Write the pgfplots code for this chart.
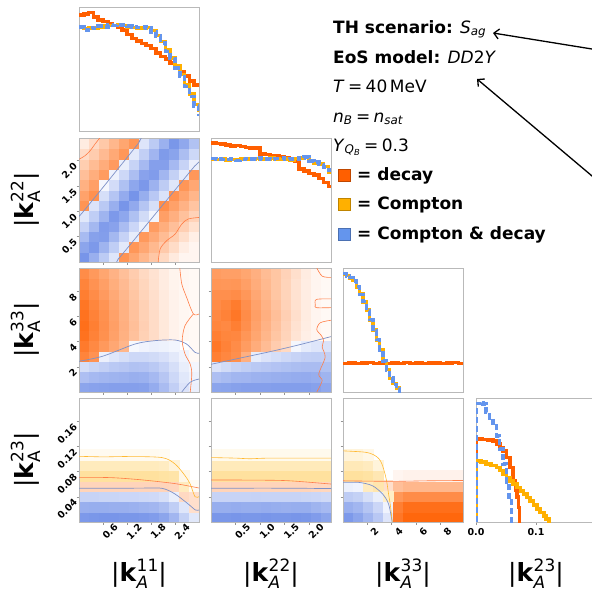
\documentclass[border=0pt]{standalone}
\usepackage{fontspec}
\setmainfont{DejaVu Sans}
\usepackage{pgfplots}
\pgfplotsset{compat=1.18}
\usetikzlibrary{arrows.meta}

\definecolor{cdecay}{RGB}{255,95,0}
\definecolor{ccomp}{RGB}{255,176,0}
\definecolor{cboth}{RGB}{100,149,237}
\definecolor{framegray}{RGB}{185,185,185}
\definecolor{lnb}{RGB}{125,145,200}
\definecolor{lno}{RGB}{255,125,70}
\definecolor{lny}{RGB}{255,185,50}

\newcommand{\klab}[2]{|\textbf{k}\rlap{\raisebox{0.38em}{\fontsize{17}{17}\selectfont #1}}\rlap{\raisebox{-0.28em}{\fontsize{17}{17}\selectfont #2}}\phantom{\fontsize{17}{17}\selectfont #1}|}

\pgfplotsset{
  colormap={bwo}{rgb255=(70,110,225) rgb255=(255,255,255) rgb255=(255,95,0)},
  colormap={wy}{rgb255=(255,255,255) rgb255=(255,255,255) rgb255=(255,176,0)},
  zbase/.style={scale only axis, width=120pt, height=124pt, anchor=north west},
  zpanel/.style={zbase, axis line style={draw=framegray, line width=0.9pt},
    tick style={draw=framegray!80!black, line width=0.6pt}, tick align=outside,
    major tick length=2.5pt, tick pos=left,
    ticklabel style={font=\bfseries\fontsize{9.5}{10}\selectfont}},
  zpanelxy/.style={zpanel,
    xticklabel style={rotate=45, anchor=center, yshift=-10pt},
    yticklabel style={rotate=45, anchor=east, yshift=-2pt}},
  zdiag/.style={zpanel, ymin=0, ymax=1, xtick=\empty, ytick=\empty},
  zcellax/.style={zbase, xmin=-0.5, xmax=11.5, ymin=-0.5, ymax=11.5, hide axis,
    point meta min=-1, point meta max=1, colormap name=bwo},
  zcells/.style={only marks, mark=square*, mark size=5.3pt, scatter, point meta=explicit,
    scatter/use mapped color={draw=mapped color, fill=mapped color}},
  zhd/.style={const plot, draw=cdecay, line width=3.5pt},
  zhc/.style={const plot, draw=ccomp, line width=3.5pt},
  zhb/.style={const plot, draw=cboth, line width=3.5pt, dash pattern=on 6pt off 3pt},
  zcb/.style={draw=lnb, line width=0.7pt, smooth},
  zco/.style={draw=lno, line width=0.6pt, smooth},
  zcy/.style={draw=lny, line width=0.6pt, smooth},
}

\begin{document}
\begin{tikzpicture}
\useasboundingbox (0,0) rectangle (592pt,-590pt);
\clip (0,0) rectangle (592pt,-590pt);

% ---------- row 1: k11 histogram
\begin{axis}[zdiag, at={(79pt,-7pt)}, xmin=0, xmax=3]
\addplot[zhd] coordinates {(0,.935) (0.12,.945) (0.24,.955) (0.36,.92) (0.48,.895) (0.6,.885) (0.72,.865) (0.84,.85) (0.96,.84) (1.08,.815) (1.2,.78) (1.32,.745) (1.44,.725) (1.56,.705) (1.68,.69) (1.8,.665) (1.92,.63) (2.04,.60) (2.16,.58) (2.28,.55) (2.40,.51) (2.52,.475) (2.64,.445) (2.76,.405) (2.88,.37) (3.0,.355)};
\addplot[zhc] coordinates {(0,.835) (0.12,.825) (0.24,.83) (0.36,.83) (0.48,.84) (0.6,.845) (0.72,.85) (0.84,.852) (0.96,.855) (1.08,.85) (1.2,.84) (1.32,.835) (1.44,.83) (1.56,.826) (1.68,.836) (1.8,.81) (1.92,.77) (2.04,.72) (2.16,.655) (2.28,.59) (2.40,.525) (2.52,.455) (2.64,.37) (2.76,.30) (2.88,.215) (3.0,.15)};
\addplot[zhb] coordinates {(0,.84) (0.12,.815) (0.24,.835) (0.36,.825) (0.48,.845) (0.6,.84) (0.72,.855) (0.84,.85) (0.96,.86) (1.08,.855) (1.2,.845) (1.32,.84) (1.44,.835) (1.56,.84) (1.68,.83) (1.8,.8) (1.92,.765) (2.04,.71) (2.16,.64) (2.28,.585) (2.40,.51) (2.52,.44) (2.64,.36) (2.76,.28) (2.88,.2) (3.0,.12)};
\end{axis}

% ---------- row 2, col 1: k11 vs k22
\begin{axis}[zcellax, at={(79pt,-138pt)}]
\addplot[zcells] coordinates {
(0,0) [-.73] (0,1) [-.62] (0,2) [-.47] (0,3) [-.31] (0,4) [-.16] (0,5) [.67] (0,6) [.58] (0,7) [.49] (0,8) [.40] (0,9) [.31] (0,10) [.22] (0,11) [.12]
(1,0) [-.55] (1,1) [-.70] (1,2) [-.65] (1,3) [-.49] (1,4) [-.34] (1,5) [-.19] (1,6) [.69] (1,7) [.60] (1,8) [.51] (1,9) [.42] (1,10) [.32] (1,11) [.23]
(2,0) [-.36] (2,1) [-.52] (2,2) [-.67] (2,3) [-.68] (2,4) [-.52] (2,5) [-.37] (2,6) [-.22] (2,7) [-.06] (2,8) [.62] (2,9) [.52] (2,10) [.43] (2,11) [.34]
(3,0) [-.18] (3,1) [-.34] (3,2) [-.49] (3,3) [-.64] (3,4) [-.70] (3,5) [-.55] (3,6) [-.40] (3,7) [-.24] (3,8) [-.09] (3,9) [.63] (3,10) [.54] (3,11) [.45]
(4,0) [.67] (4,1) [-.15] (4,2) [-.31] (4,3) [-.46] (4,4) [-.61] (4,5) [-.73] (4,6) [-.58] (4,7) [-.43] (4,8) [-.27] (4,9) [-.12] (4,10) [.65] (4,11) [.56]
(5,0) [.56] (5,1) [.65] (5,2) [-.13] (5,3) [-.28] (5,4) [-.43] (5,5) [-.59] (5,6) [-.74] (5,7) [-.61] (5,8) [-.45] (5,9) [-.30] (5,10) [-.15] (5,11) [.66]
(6,0) [.45] (6,1) [.55] (6,2) [.64] (6,3) [-.10] (6,4) [-.25] (6,5) [-.40] (6,6) [-.56] (6,7) [-.71] (6,8) [-.64] (6,9) [-.48] (6,10) [-.33] (6,11) [-.18]
(7,0) [.35] (7,1) [.44] (7,2) [.53] (7,3) [.62] (7,4) [-.07] (7,5) [-.22] (7,6) [-.38] (7,7) [-.53] (7,8) [-.68] (7,9) [-.66] (7,10) [-.51] (7,11) [-.36]
(8,0) [.24] (8,1) [.33] (8,2) [.42] (8,3) [.51] (8,4) [.60] (8,5) [.70] (8,6) [-.20] (8,7) [-.35] (8,8) [-.50] (8,9) [-.66] (8,10) [-.69] (8,11) [-.54]
(9,0) [.13] (9,1) [.22] (9,2) [.31] (9,3) [.40] (9,4) [.50] (9,5) [.59] (9,6) [.68] (9,7) [-.17] (9,8) [-.32] (9,9) [-.48] (9,10) [-.63] (9,11) [-.72]
(10,0) [.06] (10,1) [.11] (10,2) [.20] (10,3) [.30] (10,4) [.39] (10,5) [.48] (10,6) [.57] (10,7) [.66] (10,8) [-.14] (10,9) [-.30] (10,10) [-.45] (10,11) [-.60]
(11,0) [.06] (11,1) [.06] (11,2) [.10] (11,3) [.19] (11,4) [.28] (11,5) [.37] (11,6) [.46] (11,7) [.55] (11,8) [.65] (11,9) [-.11] (11,10) [-.27] (11,11) [-.42]
};
\end{axis}
\begin{axis}[zpanelxy, at={(79pt,-138pt)}, xmin=0, xmax=3, ymin=0, ymax=2.45,
  xtick={0.6,1.2,1.8,2.4}, xticklabels={}, ytick={0.5,1,1.5,2}, yticklabels={0.5,1.0,1.5,2.0}]
\addplot[zcb] coordinates {(0,0.93) (0.1,0.99) (1.4,2.26) (1.5,2.38) (1.56,2.45)};
\addplot[zcb] coordinates {(0.94,0) (1.0,0.08) (1.1,0.17) (2.75,1.76) (2.9,1.9) (3.0,1.98)};
\addplot[zco] coordinates {(0,2.03) (0.15,2.1) (0.28,2.2) (0.4,2.33) (0.52,2.45)};
\addplot[zco] coordinates {(1.98,0) (2.03,0.26) (2.19,0.42) (2.4,0.55) (2.57,0.75) (2.73,0.85) (3.0,0.88)};
\end{axis}

% ---------- row 2, col 2: k22 histogram
\begin{axis}[zdiag, at={(211pt,-138pt)}, xmin=0, xmax=2.45]
\addplot[zhd] coordinates {(0,.96) (0.1,.955) (0.2,.95) (0.3,.945) (0.4,.935) (0.5,.94) (0.6,.93) (0.7,.925) (0.8,.92) (0.9,.92) (1.0,.87) (1.1,.865) (1.2,.86) (1.3,.855) (1.4,.845) (1.5,.84) (1.6,.825) (1.7,.81) (1.8,.75) (1.9,.735) (2.0,.715) (2.1,.70) (2.2,.675) (2.3,.64) (2.4,.61) (2.45,.61)};
\addplot[zhc] coordinates {(0,.83) (0.1,.825) (0.2,.83) (0.3,.822) (0.4,.828) (0.5,.825) (0.6,.83) (0.7,.832) (0.8,.826) (0.9,.835) (1.0,.83) (1.1,.825) (1.2,.84) (1.3,.83) (1.4,.826) (1.5,.83) (1.6,.82) (1.7,.835) (1.8,.84) (1.9,.85) (2.0,.82) (2.1,.80) (2.2,.79) (2.3,.77) (2.4,.72) (2.45,.72)};
\addplot[zhb] coordinates {(0,.835) (0.1,.83) (0.2,.825) (0.3,.828) (0.4,.83) (0.5,.82) (0.6,.828) (0.7,.835) (0.8,.83) (0.9,.826) (1.0,.838) (1.1,.83) (1.2,.828) (1.3,.835) (1.4,.84) (1.5,.825) (1.6,.83) (1.7,.825) (1.8,.84) (1.9,.845) (2.0,.815) (2.1,.805) (2.2,.785) (2.3,.765) (2.4,.74) (2.45,.74)};
\end{axis}

% ---------- row 3, col 1: k11 vs k33
\begin{axis}[zcellax, at={(79pt,-268pt)}]
\addplot[zcells] coordinates {
(0,0) [-.62] (0,1) [-.44] (0,2) [-.23] (0,3) [.77] (0,4) [.83] (0,5) [.88] (0,6) [.90] (0,7) [.88] (0,8) [.86] (0,9) [.81] (0,10) [.77] (0,11) [.72]
(1,0) [-.64] (1,1) [-.48] (1,2) [-.29] (1,3) [.68] (1,4) [.74] (1,5) [.78] (1,6) [.80] (1,7) [.78] (1,8) [.76] (1,9) [.72] (1,10) [.68] (1,11) [.64]
(2,0) [-.65] (2,1) [-.50] (2,2) [-.33] (2,3) [-.10] (2,4) [.64] (2,5) [.69] (2,6) [.70] (2,7) [.69] (2,8) [.67] (2,9) [.63] (2,10) [.60] (2,11) [.56]
(3,0) [-.66] (3,1) [-.52] (3,2) [-.37] (3,3) [-.17] (3,4) [.55] (3,5) [.59] (3,6) [.60] (3,7) [.59] (3,8) [.57] (3,9) [.54] (3,10) [.51] (3,11) [.48]
(4,0) [-.66] (4,1) [-.53] (4,2) [-.39] (4,3) [-.22] (4,4) [.46] (4,5) [.49] (4,6) [.50] (4,7) [.49] (4,8) [.48] (4,9) [.45] (4,10) [.43] (4,11) [.40]
(5,0) [-.66] (5,1) [-.55] (5,2) [-.42] (5,3) [-.27] (5,4) [-.05] (5,5) [.39] (5,6) [.40] (5,7) [.39] (5,8) [.38] (5,9) [.36] (5,10) [.34] (5,11) [.32]
(6,0) [-.65] (6,1) [-.54] (6,2) [-.41] (6,3) [-.27] (6,4) [-.08] (6,5) [.29] (6,6) [.30] (6,7) [.29] (6,8) [.29] (6,9) [.27] (6,10) [.26] (6,11) [.24]
(7,0) [-.57] (7,1) [-.48] (7,2) [-.37] (7,3) [-.25] (7,4) [-.10] (7,5) [.22] (7,6) [.22] (7,7) [.22] (7,8) [.21] (7,9) [.20] (7,10) [.19] (7,11) [.18]
(8,0) [-.46] (8,1) [-.39] (8,2) [-.31] (8,3) [-.21] (8,4) [-.09] (8,5) [.14] (8,6) [.14] (8,7) [.14] (8,8) [.13] (8,9) [.13] (8,10) [.12] (8,11) [.12]
(9,0) [-.33] (9,1) [-.27] (9,2) [-.22] (9,3) [-.15] (9,4) [-.07] (9,5) [.08] (9,6) [.08] (9,7) [.08] (9,8) [.08] (9,9) [.08] (9,10) [.07] (9,11) [.07]
(10,0) [-.19] (10,1) [-.16] (10,2) [-.12] (10,3) [-.08] (10,5) [.05] (10,6) [.05] (10,7) [.05] (10,8) [.05] (10,9) [.05] (10,10) [.05] (10,11) [.05]
(11,0) [-.11] (11,1) [-.09] (11,2) [-.06] (11,3) [.04] (11,4) [.04] (11,5) [.04] (11,6) [.04] (11,7) [.04] (11,8) [.04] (11,9) [.04] (11,10) [.04] (11,11) [.04]
};
\end{axis}
\begin{axis}[zpanelxy, at={(79pt,-268pt)}, xmin=0, xmax=3, ymin=0, ymax=9.85,
  xtick={0.6,1.2,1.8,2.4}, xticklabels={}, ytick={2,4,6,8}, yticklabels={2,4,6,8}]
\addplot[zcb] coordinates {(0,2.44) (0.6,2.85) (1.4,3.81) (1.9,4.08) (2.4,4.13) (2.69,3.81) (2.9,3.15) (3.0,3.08)};
\addplot[zco] coordinates {(2.52,9.85) (2.57,8.58) (2.69,7.52) (2.86,6.2) (3.0,6.2)};
\addplot[zco] coordinates {(2.86,6.2) (2.65,5.27) (2.58,4.08) (2.65,3.02) (2.78,2.22) (2.82,1.43) (2.78,0)};
\addplot[zcb] coordinates {(2.57,0) (2.78,0.78) (3.0,1.03)};
\end{axis}

% ---------- row 3, col 2: k22 vs k33
\begin{axis}[zcellax, at={(211pt,-268pt)}]
\addplot[zcells] coordinates {
(0,0) [-.62] (0,1) [-.44] (0,2) [-.19] (0,3) [.80] (0,4) [.85] (0,5) [.80] (0,6) [.76] (0,7) [.74] (0,8) [.72] (0,9) [.70] (0,10) [.66] (0,11) [.62]
(1,0) [-.63] (1,1) [-.47] (1,2) [-.25] (1,3) [.75] (1,4) [.78] (1,5) [.76] (1,6) [.74] (1,7) [.78] (1,8) [.76] (1,9) [.70] (1,10) [.65] (1,11) [.60]
(2,0) [-.65] (2,1) [-.50] (2,2) [-.30] (2,3) [.70] (2,4) [.72] (2,5) [.75] (2,6) [.80] (2,7) [.85] (2,8) [.82] (2,9) [.72] (2,10) [.66] (2,11) [.60]
(3,0) [-.66] (3,1) [-.51] (3,2) [-.34] (3,3) [.50] (3,4) [.62] (3,5) [.66] (3,6) [.70] (3,7) [.72] (3,8) [.70] (3,9) [.65] (3,10) [.60] (3,11) [.56]
(4,0) [-.66] (4,1) [-.53] (4,2) [-.37] (4,3) [-.13] (4,4) [.52] (4,5) [.56] (4,6) [.58] (4,7) [.60] (4,8) [.58] (4,9) [.55] (4,10) [.52] (4,11) [.50]
(5,0) [-.66] (5,1) [-.54] (5,2) [-.39] (5,3) [-.19] (5,4) [.42] (5,5) [.46] (5,6) [.48] (5,7) [.50] (5,8) [.48] (5,9) [.46] (5,10) [.44] (5,11) [.42]
(6,0) [-.67] (6,1) [-.55] (6,2) [-.41] (6,3) [-.23] (6,4) [.32] (6,5) [.36] (6,6) [.38] (6,7) [.40] (6,8) [.38] (6,9) [.36] (6,10) [.36] (6,11) [.36]
(7,0) [-.67] (7,1) [-.56] (7,2) [-.43] (7,3) [-.27] (7,4) [.24] (7,5) [.27] (7,6) [.28] (7,7) [.30] (7,8) [.28] (7,9) [.27] (7,10) [.27] (7,11) [.28]
(8,0) [-.67] (8,1) [-.57] (8,2) [-.45] (8,3) [-.30] (8,4) [-.06] (8,5) [.17] (8,6) [.18] (8,7) [.20] (8,8) [.19] (8,9) [.18] (8,10) [.18] (8,11) [.20]
(9,0) [-.67] (9,1) [-.58] (9,2) [-.46] (9,3) [-.33] (9,4) [-.14] (9,5) [.10] (9,6) [.11] (9,7) [.12] (9,8) [.12] (9,9) [.11] (9,10) [.11] (9,11) [.12]
(10,0) [-.65] (10,1) [-.56] (10,2) [-.46] (10,3) [-.34] (10,4) [-.18] (10,5) [.06] (10,6) [.06] (10,7) [.06] (10,8) [.06] (10,9) [.06] (10,10) [.06] (10,11) [.06]
(11,0) [-.60] (11,1) [-.52] (11,2) [-.43] (11,3) [-.33] (11,4) [-.20] (11,5) [.04] (11,6) [.04] (11,7) [.04] (11,8) [.04] (11,9) [.04] (11,10) [.04] (11,11) [.04]
};
\end{axis}
\begin{axis}[zpanelxy, at={(211pt,-268pt)}, xmin=0, xmax=2.45, ymin=0, ymax=9.85,
  xtick={0.5,1,1.5,2}, xticklabels={}, ytick={2,4,6,8}, yticklabels={}]
\addplot[zcb] coordinates {(0,2.2) (0.6,2.7) (1.2,3.2) (1.8,3.75) (2.45,4.4)};
\addplot[zco] coordinates {(2.16,9.85) (2.27,9.2) (2.45,9.1)};
\addplot[zco] coordinates {(2.45,7.4) (2.15,7.35) (2.13,6.9) (2.15,6.7) (2.45,6.7)};
\addplot[zco] coordinates {(2.45,5.7) (2.23,5.5) (2.16,4.95) (2.25,4.5) (2.3,4.08) (2.27,3.58) (2.33,2.76) (2.2,1.43) (2.27,0.9) (2.16,0)};
\end{axis}

% ---------- row 3, col 3: k33 histogram
\begin{axis}[zdiag, at={(343pt,-268pt)}, xmin=0, xmax=9.85]
\addplot[zhd] coordinates {(0,.23) (0.5,.235) (1,.228) (1.5,.232) (2,.236) (2.5,.23) (3,.233) (3.5,.228) (4,.234) (4.5,.231) (5,.236) (5.5,.23) (6,.233) (6.5,.229) (7,.234) (7.5,.232) (8,.228) (8.5,.233) (9,.236) (9.5,.231) (9.85,.231)};
\addplot[zhc] coordinates {(0,.947) (0.27,.939) (0.55,.92) (0.82,.90) (1.09,.845) (1.37,.79) (1.64,.725) (1.92,.66) (2.19,.58) (2.46,.50) (2.74,.42) (3.01,.34) (3.28,.245) (3.56,.18) (3.83,.11) (4.10,.067) (4.38,.032) (4.65,-0.05) (9.85,-0.05)};
\addplot[zhb] coordinates {(0,.955) (0.27,.935) (0.55,.925) (0.82,.895) (1.09,.85) (1.37,.785) (1.64,.73) (1.92,.655) (2.19,.585) (2.46,.495) (2.74,.425) (3.01,.335) (3.28,.25) (3.56,.175) (3.83,.115) (4.10,.062) (4.38,.03) (4.65,-0.05) (9.85,-0.05)};
\end{axis}

% ---------- row 4, col 1: k11 vs k23
\begin{axis}[zcellax, at={(79pt,-398pt)}]
\addplot[zcells] coordinates {
(0,0) [-.70] (0,1) [-.55] (0,2) [-.30] (0,3) [.27]
(1,0) [-.72] (1,1) [-.56] (1,2) [-.30] (1,3) [.27]
(2,0) [-.73] (2,1) [-.56] (2,2) [-.29] (2,3) [.27]
(3,0) [-.73] (3,1) [-.55] (3,2) [-.29] (3,3) [.27]
(4,0) [-.72] (4,1) [-.55] (4,2) [-.28] (4,3) [.27]
(5,0) [-.72] (5,1) [-.54] (5,2) [-.28] (5,3) [.27]
(6,0) [-.70] (6,1) [-.52] (6,2) [-.27] (6,3) [.27]
(7,0) [-.68] (7,1) [-.50] (7,2) [-.26] (7,3) [.27]
(8,0) [-.62] (8,1) [-.45] (8,2) [-.22] (8,3) [.27]
(9,0) [-.50] (9,1) [-.34] (9,2) [-.12] (9,3) [.26]
(10,0) [-.32] (10,1) [-.17] (10,2) [.24]
(11,0) [-.16] (11,1) [.20] (11,2) [.20]
};
\addplot[zcells, colormap name=wy] coordinates {
(0,4) [.38] (0,5) [.26] (0,6) [.06] (1,4) [.38] (1,5) [.26] (1,6) [.06]
(2,4) [.38] (2,5) [.26] (2,6) [.06] (3,4) [.38] (3,5) [.26] (3,6) [.06]
(4,4) [.38] (4,5) [.26] (4,6) [.06] (5,4) [.38] (5,5) [.26] (5,6) [.06]
(6,4) [.38] (6,5) [.26] (6,6) [.06] (7,4) [.38] (7,5) [.26] (7,6) [.06]
(8,4) [.36] (8,5) [.24] (8,6) [.05] (9,4) [.34] (9,5) [.15]
(10,3) [.25] (10,4) [.10] (11,3) [.05]
};
\end{axis}
\begin{axis}[zpanelxy, at={(79pt,-398pt)}, xmin=0, xmax=3, ymin=0, ymax=0.197,
  xtick={0.6,1.2,1.8,2.4}, xticklabels={0.6,1.2,1.8,2.4},
  ytick={0.04,0.08,0.12,0.16}, yticklabels={0.04,0.08,0.12,0.16}]
\addplot[zcb] coordinates {(0,0.0536) (1.5,0.0538) (2.07,0.0536) (2.4,0.0445) (2.73,0.0286) (2.91,0.0191) (3.0,0.0191)};
\addplot[zco] coordinates {(0,0.071) (0.8,0.0705) (1.56,0.067) (2.4,0.061) (3.0,0.054)};
\addplot[zcy] coordinates {(0,0.1044) (0.6,0.1035) (1.2,0.1040) (2.07,0.1024) (2.4,0.0922) (2.65,0.0737) (2.78,0.0603) (2.9,0.0402) (3.0,0.0402)};
\end{axis}

% ---------- row 4, col 2: k22 vs k23
\begin{axis}[zcellax, at={(211pt,-398pt)}]
\addplot[zcells] coordinates {
(0,0) [-.72] (0,1) [-.56] (0,2) [-.30] (0,3) [.27]
(1,0) [-.72] (1,1) [-.56] (1,2) [-.30] (1,3) [.27]
(2,0) [-.73] (2,1) [-.57] (2,2) [-.30] (2,3) [.27]
(3,0) [-.72] (3,1) [-.56] (3,2) [-.30] (3,3) [.27]
(4,0) [-.72] (4,1) [-.56] (4,2) [-.31] (4,3) [.27]
(5,0) [-.73] (5,1) [-.57] (5,2) [-.30] (5,3) [.27]
(6,0) [-.72] (6,1) [-.56] (6,2) [-.30] (6,3) [.27]
(7,0) [-.72] (7,1) [-.55] (7,2) [-.30] (7,3) [.27]
(8,0) [-.73] (8,1) [-.56] (8,2) [-.30] (8,3) [.27]
(9,0) [-.72] (9,1) [-.56] (9,2) [-.29] (9,3) [.27]
(10,0) [-.68] (10,1) [-.52] (10,2) [-.28] (10,3) [.26]
(11,0) [-.62] (11,1) [-.48] (11,2) [-.26] (11,3) [.25]
};
\addplot[zcells, colormap name=wy] coordinates {
(0,4) [.38] (0,5) [.27] (0,6) [.07] (1,4) [.38] (1,5) [.27] (1,6) [.07]
(2,4) [.38] (2,5) [.27] (2,6) [.07] (3,4) [.38] (3,5) [.27] (3,6) [.07]
(4,4) [.38] (4,5) [.27] (4,6) [.07] (5,4) [.38] (5,5) [.27] (5,6) [.07]
(6,4) [.38] (6,5) [.27] (6,6) [.07] (7,4) [.38] (7,5) [.27] (7,6) [.07]
(8,4) [.38] (8,5) [.27] (8,6) [.07] (9,4) [.38] (9,5) [.27] (9,6) [.07]
(10,4) [.38] (10,5) [.27] (10,6) [.07] (11,4) [.38] (11,5) [.27] (11,6) [.07]
};
\end{axis}
\begin{axis}[zpanelxy, at={(211pt,-398pt)}, xmin=0, xmax=2.45, ymin=0, ymax=0.197,
  xtick={0.5,1,1.5,2}, xticklabels={0.5,1.0,1.5,2.0},
  ytick={0.04,0.08,0.12,0.16}, yticklabels={}]
\addplot[zcb] coordinates {(0,0.0536) (1.2,0.0538) (2.45,0.0532)};
\addplot[zco] coordinates {(0,0.0668) (1.0,0.0665) (1.6,0.0655) (2.45,0.0603)};
\addplot[zcy] coordinates {(0,0.1024) (0.5,0.1015) (0.8,0.1005) (1.2,0.1015) (2.45,0.1015)};
\end{axis}

% ---------- row 4, col 3: k33 vs k23
\begin{axis}[zcellax, at={(343pt,-398pt)}]
\addplot[zcells] coordinates {
(0,0) [-.70] (0,1) [-.55] (0,2) [-.35] (0,3) [-.10]
(1,0) [-.62] (1,1) [-.50] (1,2) [-.32] (1,3) [-.08]
(2,0) [-.50] (2,1) [-.40] (2,2) [-.22]
(3,0) [-.38] (3,1) [-.28] (3,2) [-.12]
(4,0) [-.18] (4,1) [-.08] (4,3) [.20]
(5,0) [.85] (5,1) [.80] (5,2) [.65] (5,3) [.40] (5,4) [.06]
(6,0) [.95] (6,1) [.90] (6,2) [.72] (6,3) [.45] (6,4) [.08]
(7,0) [.95] (7,1) [.90] (7,2) [.72] (7,3) [.45] (7,4) [.08]
(8,0) [.95] (8,1) [.90] (8,2) [.72] (8,3) [.45] (8,4) [.08]
(9,0) [.95] (9,1) [.90] (9,2) [.72] (9,3) [.45] (9,4) [.08]
(10,0) [.95] (10,1) [.90] (10,2) [.72] (10,3) [.45] (10,4) [.08]
(11,0) [.95] (11,1) [.90] (11,2) [.72] (11,3) [.45] (11,4) [.08]
};
\addplot[zcells, colormap name=wy] coordinates {
(0,4) [.38] (0,5) [.28] (0,6) [.14] (1,4) [.38] (1,5) [.28] (1,6) [.14]
(2,3) [.25] (2,4) [.36] (2,5) [.25] (2,6) [.10]
(3,3) [.32] (3,4) [.30] (3,5) [.14] (4,2) [.22]
};
\end{axis}
\begin{axis}[zpanelxy, at={(343pt,-398pt)}, xmin=0, xmax=9.85, ymin=0, ymax=0.197,
  xtick={2,4,6,8}, xticklabels={2,4,6,8},
  ytick={0.04,0.08,0.12,0.16}, yticklabels={}]
\addplot[zcb] coordinates {(0,0.063) (1.28,0.063) (2.41,0.0577) (3.25,0.0445) (3.74,0.0286) (4.04,0)};
\addplot[zcy] coordinates {(0,0.113) (1.77,0.111) (2.5,0.107) (2.95,0.1005) (3.2,0.092) (3.45,0.0762) (3.6,0.063) (3.74,0.0445) (3.9,0.025) (4.04,0)};
\addplot[zco] coordinates {(0,0.0655) (4,0.0646) (7,0.0655) (9.85,0.066)};
\end{axis}

% ---------- row 4, col 4: k23 histogram
\begin{axis}[zdiag, at={(476pt,-398pt)}, xmin=0, xmax=0.2,
  xtick={0,0.1}, xticklabels={0.0,0.1}]
\addplot[zhd] coordinates {(0,0) (0,.668) (0.01,.665) (0.02,.66) (0.028,.652) (0.034,.628) (0.04,.60) (0.045,.574) (0.051,.52) (0.0565,.44) (0.062,.332) (0.066,.26) (0.068,.2) (0.0706,.116) (0.0723,-0.05) (0.2,-0.05)};
\addplot[zhc] coordinates {(0,0) (0,.493) (0.008,.485) (0.017,.466) (0.025,.455) (0.034,.44) (0.04,.415) (0.045,.386) (0.051,.36) (0.0565,.332) (0.062,.305) (0.068,.278) (0.074,.25) (0.079,.224) (0.085,.197) (0.0904,.17) (0.096,.137) (0.1017,.103) (0.107,.076) (0.113,.049) (0.117,.025) (0.1215,-0.05) (0.2,-0.05)};
\addplot[zhb] coordinates {(0,0) (0,.957) (0.0056,.965) (0.0113,.95) (0.017,.884) (0.0226,.838) (0.028,.776) (0.034,.695) (0.0395,.588) (0.045,.466) (0.051,.318) (0.055,.17) (0.059,-0.05) (0.2,-0.05)};
\end{axis}

% ---------- axis labels
\begin{scope}[every node/.style={font=\fontsize{25}{28}\selectfont, inner sep=0pt}]
\node[rotate=90, anchor=base] at (33pt,-200pt) {\klab{22}{A}};
\node[rotate=90, anchor=base] at (33pt,-330pt) {\klab{33}{A}};
\node[rotate=90, anchor=base] at (33pt,-460pt) {\klab{23}{A}};
\node[anchor=base] at (139pt,-581pt) {\klab{11}{\itshape A}};
\node[anchor=base] at (271pt,-581pt) {\klab{22}{\itshape A}};
\node[anchor=base] at (403pt,-581pt) {\klab{33}{\itshape A}};
\node[anchor=base] at (536pt,-581pt) {\klab{23}{\itshape A}};
\end{scope}

% ---------- text block
\begin{scope}[every node/.style={font=\fontsize{17}{20}\selectfont, anchor=base west, inner sep=0pt}]
\node at (333pt,-33pt) {\textbf{TH scenario:} \textit{S}\textsubscript{\textit{ag}}};
\node at (333pt,-63pt) {\textbf{EoS model:} \textit{DD}2\textit{Y}};
\node at (333pt,-92pt) {\textit{T}\hspace{0.2em}=\hspace{0.2em}40\hspace{0.15em}MeV};
\node at (333pt,-122pt) {\textit{n}\textsubscript{\textit{B}}\hspace{0.2em}=\hspace{0.2em}\textit{n}\textsubscript{\textit{sat}}};
\node at (333pt,-151pt) {\textit{Y}\textsubscript{\textit{Q}\textsubscript{\textit{B}}}\hspace{0.2em}=\hspace{0.2em}0.3};
\node at (357pt,-180pt) {\textbf{= decay}};
\node at (357pt,-209pt) {\textbf{= Compton}};
\node at (357pt,-239pt) {\textbf{= Compton \& decay}};
\end{scope}
\filldraw[fill=cdecay, draw=cdecay!75!black, line width=0.6pt] (338pt,-169pt) rectangle (350pt,-181pt);
\filldraw[fill=ccomp, draw=ccomp!75!black, line width=0.6pt] (338pt,-198pt) rectangle (350pt,-210pt);
\filldraw[fill=cboth, draw=cboth!75!black, line width=0.6pt] (338pt,-228pt) rectangle (350pt,-240pt);

% ---------- arrows
\draw[line width=1.3pt, -{Straight Barb[length=5pt,width=10pt]}] (600pt,-50.3pt) -- (493pt,-33pt);
\draw[line width=1.3pt, -{Straight Barb[length=5pt,width=10pt]}] (600pt,-182.7pt) -- (477pt,-79pt);
\end{tikzpicture}
\end{document}
